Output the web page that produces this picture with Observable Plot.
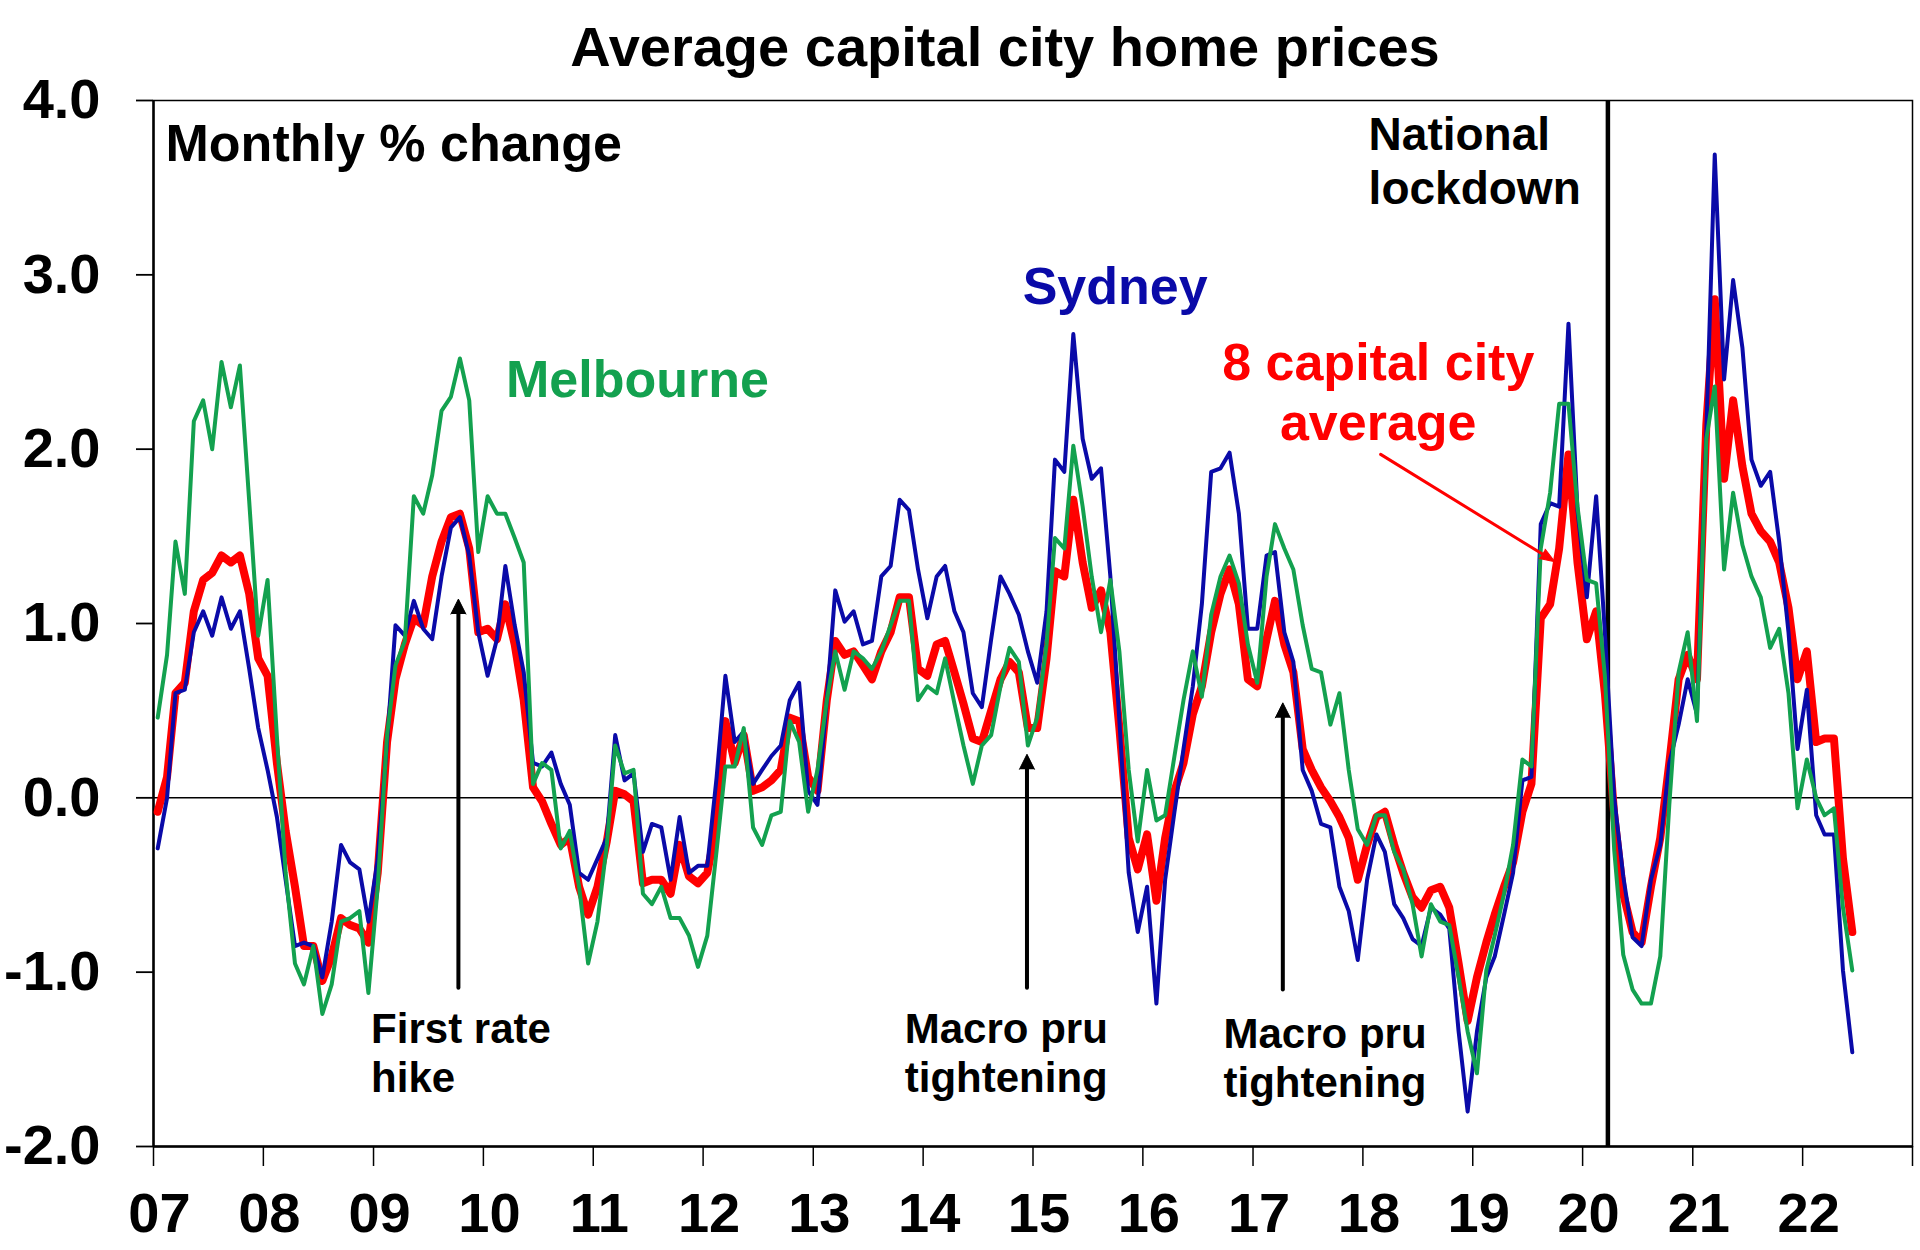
<!DOCTYPE html>
<html>
<head>
<meta charset="utf-8">
<script src="https://cdn.jsdelivr.net/npm/d3@7"></script>
<script src="https://cdn.jsdelivr.net/npm/@observablehq/plot@0.6"></script>
<style>
  html, body { margin: 0; padding: 0; background: #fff; }
  body { width: 1920px; height: 1250px; position: relative; overflow: hidden;
         font-family: "Liberation Sans", Arial, sans-serif; }
  #title { position: absolute; left: 0; top: 0; width: 1920px; box-sizing: border-box;
           padding-left: 90px; text-align: center; height: 94px; line-height: 94px;
           font-size: 56px; font-weight: bold; color: #000; }
  #chart { position: absolute; left: 0; top: 90px; }
</style>
</head>
<body>
<div id="title">Average capital city home prices</div>
<div id="chart"></div>
<script>
// ---- Data: monthly % change, Jan 2007 – Jun 2022 ----
const firstMonth = [2007, 0];   // Jan 2007
const sydney = [
  -0.29, 0.00, 0.60, 0.62, 0.95, 1.07, 0.93, 1.15, 0.97, 1.07, 0.74, 0.40,
  0.16, -0.11, -0.47, -0.85, -0.83, -0.85, -1.03, -0.71, -0.27, -0.37, -0.41, -0.71,
  -0.35, 0.32, 0.99, 0.93, 1.13, 0.97, 0.91, 1.27, 1.55, 1.61, 1.39, 0.95,
  0.70, 0.91, 1.33, 0.99, 0.72, 0.20, 0.18, 0.26, 0.08, -0.04, -0.43, -0.47,
  -0.35, -0.23, 0.36, 0.10, 0.14, -0.31, -0.15, -0.17, -0.47, -0.11, -0.43, -0.39,
  -0.39, 0.12, 0.70, 0.32, 0.38, 0.08, 0.16, 0.24, 0.30, 0.56, 0.66, 0.04,
  -0.04, 0.56, 1.19, 1.01, 1.07, 0.88, 0.90, 1.27, 1.33, 1.71, 1.65, 1.31,
  1.03, 1.27, 1.33, 1.07, 0.95, 0.60, 0.52, 0.91, 1.27, 1.17, 1.05, 0.84,
  0.66, 1.07, 1.94, 1.87, 2.66, 2.06, 1.83, 1.89, 1.27, 0.44, -0.43, -0.77,
  -0.51, -1.18, -0.47, -0.08, 0.28, 0.64, 1.11, 1.87, 1.89, 1.98, 1.63, 0.97,
  0.97, 1.39, 1.41, 0.95, 0.78, 0.16, 0.04, -0.15, -0.17, -0.51, -0.65, -0.93,
  -0.47, -0.21, -0.31, -0.61, -0.69, -0.81, -0.85, -0.63, -0.67, -0.75, -1.34, -1.80,
  -1.34, -1.03, -0.91, -0.67, -0.43, 0.10, 0.12, 1.57, 1.69, 1.67, 2.72, 1.65,
  1.15, 1.73, 0.95, 0.00, -0.45, -0.80, -0.85, -0.47, -0.27, 0.20, 0.42, 0.68,
  0.48, 2.10, 3.69, 2.40, 2.97, 2.58, 1.94, 1.79, 1.87, 1.47, 0.95, 0.28,
  0.62, -0.10, -0.21, -0.21, -0.99, -1.46
];
const melbourne = [
  0.46, 0.82, 1.47, 1.17, 2.16, 2.28, 2.00, 2.50, 2.24, 2.48, 1.70, 0.93,
  1.25, 0.35, -0.43, -0.95, -1.07, -0.85, -1.24, -1.07, -0.71, -0.69, -0.65, -1.12,
  -0.51, 0.36, 0.76, 0.90, 1.73, 1.63, 1.85, 2.22, 2.30, 2.52, 2.28, 1.41,
  1.73, 1.63, 1.63, 1.49, 1.35, 0.08, 0.20, 0.16, -0.29, -0.19, -0.51, -0.95,
  -0.71, -0.27, 0.30, 0.14, 0.16, -0.55, -0.61, -0.51, -0.69, -0.69, -0.79, -0.97,
  -0.79, -0.30, 0.18, 0.18, 0.40, -0.17, -0.27, -0.10, -0.08, 0.44, 0.32, -0.08,
  0.16, 0.56, 0.84, 0.62, 0.84, 0.80, 0.74, 0.84, 0.99, 1.13, 1.13, 0.56,
  0.64, 0.60, 0.80, 0.54, 0.30, 0.08, 0.30, 0.36, 0.64, 0.86, 0.78, 0.30,
  0.46, 0.88, 1.49, 1.43, 2.02, 1.67, 1.27, 0.95, 1.25, 0.84, 0.16, -0.25,
  0.16, -0.13, -0.10, 0.24, 0.56, 0.84, 0.58, 1.05, 1.27, 1.39, 1.23, 0.88,
  0.66, 1.27, 1.57, 1.43, 1.31, 0.99, 0.74, 0.72, 0.42, 0.60, 0.16, -0.18,
  -0.27, -0.10, -0.10, -0.31, -0.41, -0.61, -0.91, -0.61, -0.71, -0.73, -1.03, -1.34,
  -1.58, -0.99, -0.79, -0.55, -0.27, 0.22, 0.18, 1.43, 1.75, 2.26, 2.26, 1.67,
  1.25, 1.23, 0.70, -0.30, -0.90, -1.10, -1.18, -1.18, -0.91, -0.04, 0.72, 0.95,
  0.44, 2.06, 2.36, 1.31, 1.75, 1.45, 1.27, 1.15, 0.86, 0.97, 0.60, -0.06,
  0.22, 0.00, -0.10, -0.06, -0.63, -0.99
];
const average8 = [
  -0.08, 0.12, 0.60, 0.66, 1.07, 1.25, 1.29, 1.39, 1.35, 1.39, 1.17, 0.80,
  0.70, 0.20, -0.19, -0.51, -0.85, -0.85, -1.05, -0.91, -0.69, -0.73, -0.75, -0.83,
  -0.43, 0.32, 0.68, 0.88, 1.03, 0.99, 1.27, 1.47, 1.61, 1.63, 1.43, 0.95,
  0.97, 0.91, 1.11, 0.88, 0.56, 0.06, -0.02, -0.15, -0.27, -0.23, -0.51, -0.67,
  -0.51, -0.25, 0.04, 0.02, -0.02, -0.49, -0.47, -0.47, -0.55, -0.27, -0.45, -0.49,
  -0.43, -0.15, 0.44, 0.20, 0.36, 0.04, 0.06, 0.10, 0.16, 0.46, 0.44, 0.12,
  0.04, 0.56, 0.90, 0.82, 0.84, 0.76, 0.68, 0.84, 0.95, 1.15, 1.15, 0.74,
  0.70, 0.88, 0.90, 0.72, 0.54, 0.34, 0.32, 0.50, 0.68, 0.78, 0.72, 0.40,
  0.40, 0.80, 1.30, 1.27, 1.71, 1.35, 1.09, 1.19, 0.95, 0.40, -0.23, -0.41,
  -0.21, -0.59, -0.23, 0.04, 0.20, 0.48, 0.64, 0.95, 1.17, 1.31, 1.11, 0.68,
  0.64, 0.91, 1.13, 0.88, 0.72, 0.28, 0.16, 0.06, -0.02, -0.11, -0.23, -0.47,
  -0.27, -0.11, -0.08, -0.27, -0.43, -0.57, -0.63, -0.53, -0.51, -0.63, -0.95, -1.28,
  -1.03, -0.83, -0.67, -0.51, -0.37, -0.08, 0.08, 1.03, 1.11, 1.43, 1.97, 1.35,
  0.91, 1.07, 0.60, -0.10, -0.55, -0.77, -0.83, -0.51, -0.23, 0.20, 0.68, 0.82,
  0.68, 2.14, 2.86, 1.83, 2.28, 1.90, 1.63, 1.53, 1.47, 1.35, 1.09, 0.68,
  0.84, 0.32, 0.34, 0.34, -0.35, -0.77
];
const yTicks = [-2, -1, 0, 1, 2, 3, 4];
const xTickYears = [2007, 2008, 2009, 2010, 2011, 2012, 2013, 2014, 2015, 2016, 2017, 2018, 2019, 2020, 2021, 2022, 2023];
const lockdownDate = new Date(Date.UTC(2020, 2, 25));

// annotation positions in data units (date, % change)
const seriesLabels = [
  {date: new Date(Date.UTC(2015, 9, 1)), value: 2.94, text: "Sydney", color: "#0a0aa8"},
  {date: new Date(Date.UTC(2011, 4, 28)), value: 2.41, text: "Melbourne", color: "#13a14f"},
  {date: new Date(Date.UTC(2018, 1, 21)), value: 2.335, text: "8 capital city\naverage", color: "#ff0000"}
];
const eventLabels = [
  {date: new Date(Date.UTC(2008, 11, 24)), value: -1.455, text: "First rate\nhike"},
  {date: new Date(Date.UTC(2013, 10, 1)), value: -1.455, text: "Macro pru\ntightening"},
  {date: new Date(Date.UTC(2016, 8, 25)), value: -1.486, text: "Macro pru\ntightening"}
];
const eventArrows = [
  {date: new Date(Date.UTC(2009, 9, 10)), from: -1.09, to: 1.14},
  {date: new Date(Date.UTC(2014, 11, 12)), from: -1.09, to: 0.25},
  {date: new Date(Date.UTC(2017, 3, 10)), from: -1.10, to: 0.545}
];
const avgArrow = [{x1: new Date(Date.UTC(2018, 2, 1)), y1: 1.97, x2: new Date(Date.UTC(2019, 9, 1)), y2: 1.354}];
const lockdownLabel = [{date: new Date(Date.UTC(2018, 0, 20)), value: 3.66, text: "National\nlockdown"}];
const unitLabel = [{date: new Date(Date.UTC(2007, 1, 10)), value: 3.75, text: "Monthly % change"}];

// ---- Build tables ----
const monthDate = i => new Date(Date.UTC(firstMonth[0], firstMonth[1] + i, 15));
const toRows = arr => arr.map((v, i) => ({date: monthDate(i), value: v}));
const rowsSyd = toRows(sydney);
const rowsMel = toRows(melbourne);
const rowsAvg = toRows(average8);
const xStart = new Date(Date.UTC(2007, 0, 1));
const xEnd = new Date(Date.UTC(2023, 0, 1));
const xTicks = xTickYears.map(y => new Date(Date.UTC(y, 0, 1)));
const xLabelFormat = d => d.getUTCFullYear() < 2023 ? d3.utcFormat("%y")(d) : "";

const font = "'Liberation Sans', Arial, sans-serif";

const chart = Plot.plot({
  width: 1920,
  height: 1160,
  marginTop: 10,
  marginBottom: 104,
  marginLeft: 153,
  marginRight: 8,
  style: {fontFamily: font, background: "white", color: "black", overflow: "visible"},
  x: {type: "utc", domain: [xStart, xEnd]},
  y: {domain: [-2, 4]},
  marks: [
    Plot.frame({stroke: "black", strokeWidth: 1.5}),
    Plot.ruleY([0], {stroke: "black", strokeWidth: 1.5}),
    Plot.ruleY([-2], {stroke: "black", strokeWidth: 2.5}),
    Plot.ruleX([xStart], {stroke: "black", strokeWidth: 2.5}),
    Plot.axisY({
      ticks: yTicks, tickFormat: d => d.toFixed(1), tickSize: 17, tickPadding: 36,
      fontSize: 56, fontWeight: "bold", color: "black", strokeWidth: 1.8, label: null
    }),
    // x tick lines
    Plot.axisX({
      ticks: xTicks, tickFormat: () => "", tickSize: 20, tickPadding: 0,
      color: "black", strokeWidth: 1.5, label: null
    }),
    // x tick labels (slightly right of the tick, as in the original)
    Plot.axisX({
      ticks: xTicks, tickFormat: xLabelFormat, tickSize: 0, tickPadding: 46, dx: 6,
      fontSize: 56, fontWeight: "bold", color: "black", label: null
    }),
    Plot.ruleX([lockdownDate], {stroke: "black", strokeWidth: 4.5}),
    Plot.line(rowsAvg, {x: "date", y: "value", stroke: "#ff0000", strokeWidth: 8, strokeLinejoin: "round"}),
    Plot.line(rowsSyd, {x: "date", y: "value", stroke: "#0a0aa8", strokeWidth: 4, strokeLinejoin: "round"}),
    Plot.line(rowsMel, {x: "date", y: "value", stroke: "#13a14f", strokeWidth: 4, strokeLinejoin: "round"}),
    // event arrows: shaft + filled head
    Plot.arrow(eventArrows, {x: "date", y1: "from", y2: "to", stroke: "black", strokeWidth: 4, headLength: 0, insetEnd: 10}),
    Plot.vector(eventArrows, {x: "date", y: "to", shape: "spike", anchor: "end", length: 15, r: 7.5, fill: "black", stroke: "black", strokeWidth: 1}),
    Plot.arrow(avgArrow, {x1: "x1", y1: "y1", x2: "x2", y2: "y2", stroke: "#ff0000", strokeWidth: 3, headLength: 0, insetEnd: 8}),
    Plot.vector(avgArrow, {x: "x2", y: "y2", shape: "spike", anchor: "end", length: 15, r: 5.5, rotate: 122, fill: "#ff0000", stroke: "#ff0000", strokeWidth: 1}),
    Plot.text(unitLabel, {x: "date", y: "value", text: "text", textAnchor: "start", fontSize: 52, fontWeight: "bold", fill: "black"}),
    Plot.text(lockdownLabel, {x: "date", y: "value", text: "text", textAnchor: "start", fontSize: 46, fontWeight: "bold", fill: "black", lineHeight: 1.18}),
    Plot.text(seriesLabels, {x: "date", y: "value", text: "text", fill: "color", textAnchor: "middle", fontSize: 52, fontWeight: "bold", lineHeight: 1.15}),
    Plot.text(eventLabels, {x: "date", y: "value", text: "text", textAnchor: "start", fontSize: 42, fontWeight: "bold", fill: "black", lineHeight: 1.17})
  ]
});
document.getElementById("chart").appendChild(chart);
</script>
</body>
</html>
